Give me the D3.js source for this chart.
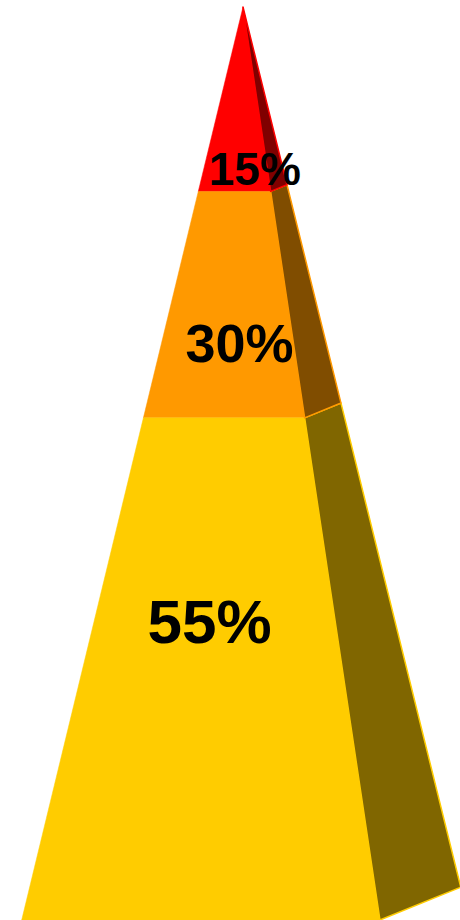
<!DOCTYPE html>
<html><head><meta charset="utf-8">
<script src="https://cdn.jsdelivr.net/npm/d3@7"></script>
<style>html,body{margin:0;padding:0;background:#fff;overflow:hidden}</style>
</head><body><svg id="c" width="460" height="920"></svg>
<script>
// ---- data ----
const categories = ["Top", "Middle", "Base"];
const values = [15, 30, 55];                 // shown as labels
const percentLabels = ["15%", "30%", "55%"];
const heightShares = [20.2, 24.8, 55];       // share of pyramid height as drawn
const frontColors = ["#FF0000", "#FF9900", "#FFCC00"];

// ---- layout ----
const W = 460, H = 920;
const apex = {x: 243, y: 7};
const baseY = 920;
const leftSlope = 0.2424, rightSlope = 0.150, depthX = 0.0885, depthY = 0.036;
const labelLayout = [
  {pos: 0.964, dx: 20, size: 46},
  {pos: 0.753, dx: 13, size: 54},
  {pos: 0.449, dx: -4, size: 62}
];

const cum = [0];
heightShares.forEach((v, i) => cum.push(cum[i] + v));
const tScale = d3.scaleLinear().domain([0, cum[cum.length - 1]]).range([0, baseY - apex.y]);

const FL = t => [apex.x - leftSlope * t, apex.y + t];
const FR = t => [apex.x + rightSlope * t, apex.y + t];
const BK = t => [apex.x + (rightSlope + depthX) * t, apex.y + t - depthY * t];

const segs = categories.map((c, i) => ({
  cat: c, value: values[i], label: percentLabels[i], color: frontColors[i],
  side: d3.interpolateRgb(frontColors[i], "#000")(0.5),
  t0: tScale(cum[i]), t1: tScale(cum[i + 1]), i
}));

const svg = d3.select("#c");
const line = d3.line();

svg.selectAll("path.front").data(segs).join("path")
  .attr("class", "front")
  .attr("d", d => line([FL(d.t0), FR(d.t0), FR(d.t1), FL(d.t1)]) + "Z")
  .attr("fill", d => d.color)
  .attr("stroke", d => d.color).attr("stroke-width", 0.5);

svg.selectAll("path.side").data(segs.slice().reverse()).join("path")
  .attr("class", "side")
  .attr("d", d => line([FR(d.t0), BK(d.t0), BK(d.t1), FR(d.t1)]) + "Z")
  .attr("fill", d => d.side)
  .attr("stroke", d => d.color).attr("stroke-width", 1.5)
  .attr("stroke-linejoin", "round");

svg.selectAll("text.lbl").data(segs).join("text")
  .attr("class", "lbl")
  .attr("x", d => {
    const t = d.t0 + (d.t1 - d.t0) * labelLayout[d.i].pos;
    return (FL(t)[0] + FR(t)[0]) / 2 + labelLayout[d.i].dx;
  })
  .attr("y", d => apex.y + d.t0 + (d.t1 - d.t0) * labelLayout[d.i].pos)
  .attr("text-anchor", "middle")
  .attr("font-family", "'Liberation Sans', Arial, sans-serif")
  .attr("font-weight", "bold")
  .attr("font-size", d => labelLayout[d.i].size)
  .attr("fill", "#000")
  .text(d => d.label);
</script>
</body></html>
